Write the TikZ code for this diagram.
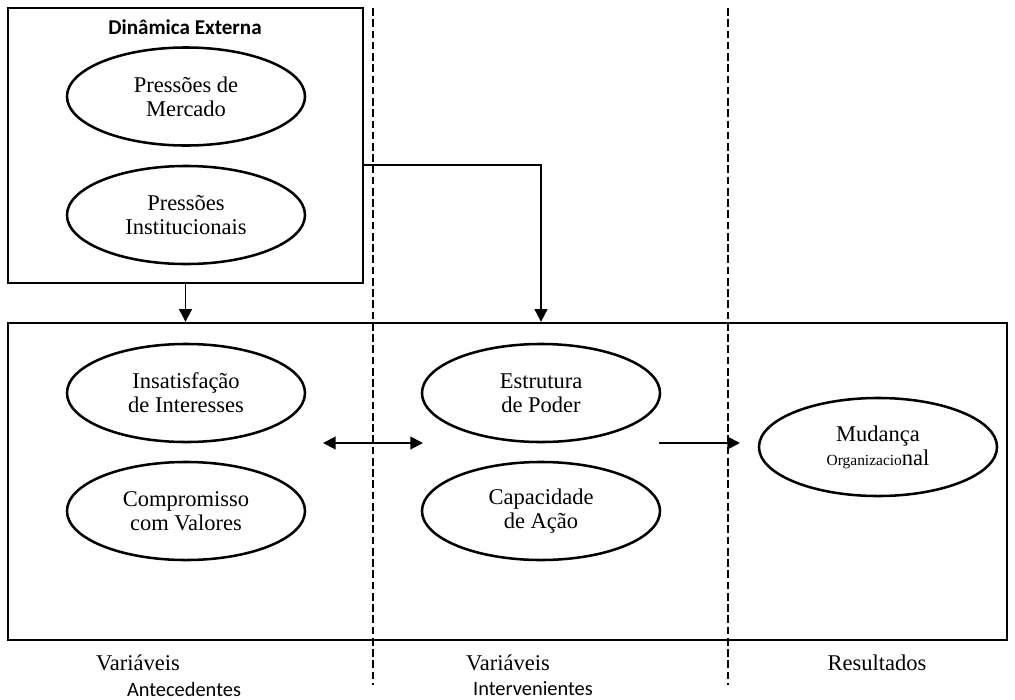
\documentclass[tikz,border=0pt]{standalone}
\usepackage{fontspec}
\setmainfont{Liberation Serif}
\newfontfamily\calibri{Carlito}
\usetikzlibrary{shapes.geometric,arrows.meta}

\begin{document}
\begin{tikzpicture}[x=0.025cm,y=-0.025cm,>={Triangle[length=9pt,width=9pt]},
	elli/.style={draw,line width=1.8pt,ellipse,minimum width=5.95cm,minimum height=2.45cm,inner sep=0pt,align=center,font=\fontsize{16}{17}\selectfont},
	frame/.style={draw,line width=1.6pt,inner sep=0pt},
	conn/.style={line width=1.4pt},
	divider/.style={line width=1.6pt,dash pattern=on 5.5pt off 2.5pt},
	caption/.style={font=\fontsize{16}{17}\selectfont},
	sans/.style={font=\calibri\fontsize{14.5}{16}\selectfont}]
	\useasboundingbox (0,0) rectangle (1015,699);
	\node [frame,minimum width=8.875cm,minimum height=6.875cm] (ext) at (185.5,145.5) {};
	\node [frame,minimum width=24.975cm,minimum height=7.925cm] (main) at (507.5,481.5) {};
	\node [font=\calibri\bfseries\fontsize{15}{17}\selectfont] (title) at (185,27) {Dinâmica Externa};
	\node [elli] (merc) at (186,96.5) {Pressões de\\Mercado};
	\node [elli] (inst) at (186,215) {Pressões\\Institucionais};
	\node [elli] (insat) at (186,393) {Insatisfação\\de Interesses};
	\node [elli] (valor) at (186,511) {Compromisso\\com Valores};
	\node [elli] (est) at (541,393) {Estrutura\\de Poder};
	\node [elli] (acao) at (541,511) {Capacidade\\de Ação};
	\node [elli] (mud) at (878,447) {Mudança\\{\fontsize{11}{12}\selectfont Organizacio}nal};
	\draw [divider] (373,8) -- (373,685);
	\draw [divider] (728,8) -- (728,685);
	\coordinate (bend) at (541,165);
	\draw [conn,->] (ext.south) -- (ext.south |- main.north);
	\draw [conn,->] (ext.east |- bend) -| (main.north -| est);
	\coordinate (dl) at (323,443);
	\coordinate (dr) at (423,443);
	\draw [conn,<->] (dl) -- (dr);
	\coordinate (rl) at (659,443);
	\coordinate (rr) at (740,443);
	\draw [conn,->] (rl) -- (rr);
	\node [caption] (var1) at (138,663) {Variáveis};
	\node [sans] (ant) at (184,689) {Antecedentes};
	\node [caption] (var2) at (508,663) {Variáveis};
	\node [sans] (interv) at (533,689) {Intervenientes};
	\node [caption] (res) at (877,663) {Resultados};
\end{tikzpicture}
\end{document}
